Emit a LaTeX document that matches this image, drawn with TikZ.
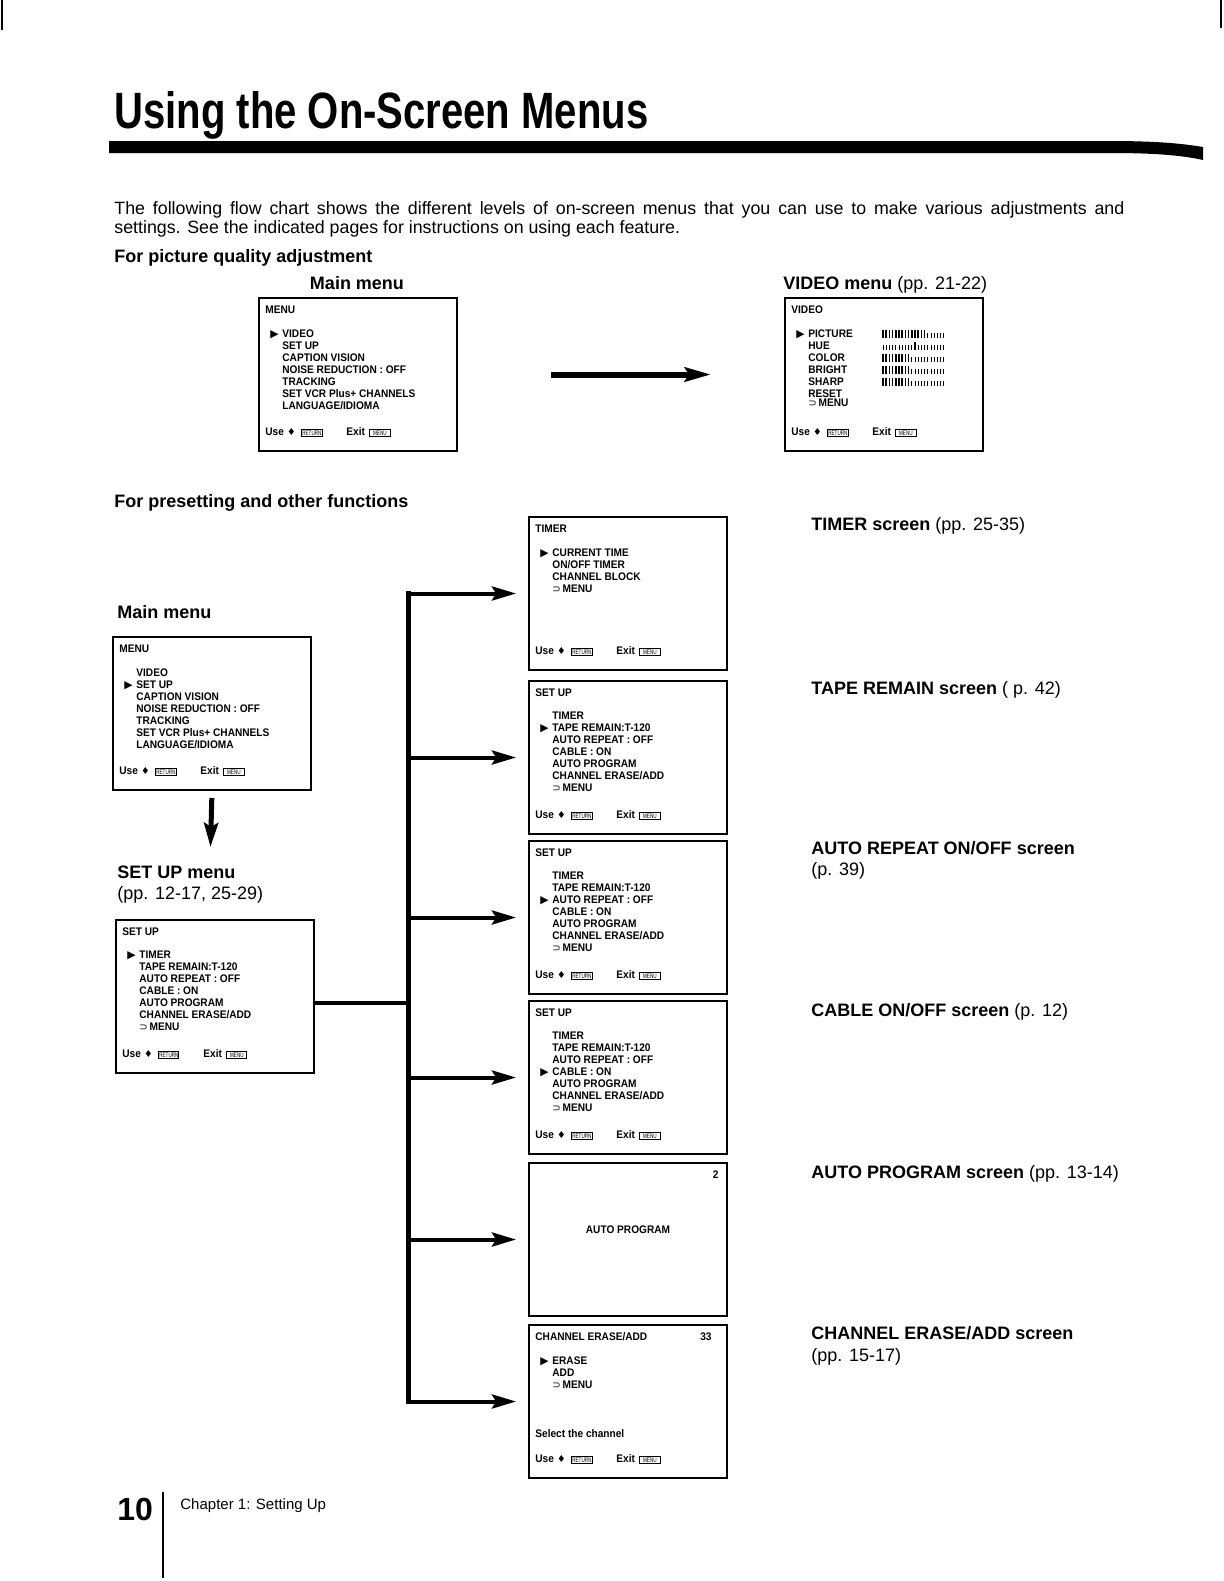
\documentclass[tikz,border=0pt]{standalone}
\usepackage{fontspec}
\usepackage{graphicx}
\setmainfont{Liberation Sans}
\newfontfamily\osdfont[FakeStretch=0.92]{Liberation Sans Bold}
\newfontfamily\osdsym{DejaVu Sans}
\newfontfamily\keyfont[FakeStretch=0.7]{Liberation Sans}
\usetikzlibrary{arrows.meta,calc}

% bits of the on-screen display
\newcommand{\osdcur}{\makebox[6pt][l]{\osdsym\fontsize{5.4pt}{5pt}\selectfont ▶}}
\newcommand{\osdnocur}{\makebox[6pt][l]{}}
\newcommand{\osdback}{{\osdsym\fontsize{5pt}{5pt}\selectfont ⊃}\,}
\newcommand{\keycap}[1]{{\setlength\fboxsep{0.5pt}\setlength\fboxrule{0.45pt}\framebox[10.5pt]{\keyfont\fontsize{3.3pt}{4pt}\selectfont #1}}}
\newcommand{\osdfoot}{\makebox[11pt][l]{Use}\makebox[4pt]{\osdsym\fontsize{4.8pt}{5pt}\selectfont ♦}\hspace{3pt}\keycap{RETURN}\hspace{12pt}\makebox[11.5pt][l]{Exit}\keycap{MENU}}
\newcommand{\osdscreen}[4]{%
  \node[screen] (#1) at (#2) {};
  \node[osd, anchor=base west] (#1-head) at ([xshift=3.5pt,yshift=-8.25pt]#1.north west) {#3};
  \node[osd, anchor=north west] (#1-list) at ([xshift=6pt,yshift=-16pt]#1.north west) {#4};
  \node[osd, anchor=base west] (#1-foot) at ([xshift=3.5pt,yshift=-69pt]#1.north west) {\osdfoot};}

\begin{document}
\begin{tikzpicture}[x=0.5pt, y=-0.5pt,
  screen/.style={draw, line width=1pt, minimum width=99pt, minimum height=76.5pt, inner sep=0pt, anchor=north west},
  osd/.style={font=\osdfont\fontsize{5.5pt}{6pt}\selectfont, inner sep=0pt, align=left},
  lbl/.style={font=\fontsize{9pt}{10.5pt}\selectfont, inner sep=0pt, anchor=base west},
  head/.style={lbl, font=\fontsize{9pt}{10.5pt}\selectfont\bfseries},
  branch/.style={line width=2pt, shorten >=6pt, -{Stealth[length=12pt,width=7pt,inset=2pt]}}]
  \fill[white] (0,0) rectangle (1224,1581);
  \useasboundingbox (0,0) rectangle (1224,1581);

  % page edges and heading
  \draw[line width=1pt] (2,0) -- (2,30);
  \draw[line width=1pt] (1221,0) -- (1221,28);
  \node[anchor=base west, inner sep=0pt] (title) at (114,128)
    {\resizebox{267pt}{18.5pt}{\bfseries Using the On-Screen Menus}};
  \fill (109,141) -- (1110,141) .. controls (1160,141) and (1185,144) .. (1203,147)
    -- (1203,160) .. controls (1185,156) and (1160,153) .. (1110,153) -- (109,153) -- cycle;
  \node[lbl, font=\fontsize{8.9pt}{10pt}\selectfont] (introa) at (114,214)
    {\makebox[505pt][s]{The following flow chart shows the different levels of on-screen menus that you can use to make various adjustments and}};
  \node[lbl, font=\fontsize{8.9pt}{10pt}\selectfont] (introb) at (114,233)
    {settings. See the indicated pages for instructions on using each feature.};

  % picture quality
  \node[head] (pq-lbl) at (114,262) {For picture quality adjustment};
  \node[head, anchor=base] (menuA-lbl) at (357,289) {Main menu};
  \node[lbl] (video-lbl) at (783,289) {\textbf{VIDEO menu} (pp. 21-22)};
  \osdscreen{menuA}{258,297}{MENU}{\osdcur VIDEO\\\osdnocur SET UP\\\osdnocur CAPTION VISION\\\osdnocur NOISE REDUCTION : OFF\\\osdnocur TRACKING\\\osdnocur SET VCR Plus+ CHANNELS\\\osdnocur LANGUAGE/IDIOMA}
  \osdscreen{video}{784,297}{VIDEO}{\osdcur PICTURE\\\osdnocur HUE\\\osdnocur COLOR\\\osdnocur BRIGHT\\\osdnocur SHARP\\\osdnocur RESET\\[-1.5pt]\osdnocur\osdback MENU}
  \foreach \r in {0,...,4}
    \foreach \i in {0,...,19}
      \draw[line width=0.35pt] (883+3.2*\i, 338+12*\r) -- ++(0,-5);
  \foreach \r/\a/\b in {0/0/13, 1/10/10, 2/0/8, 3/0/8, 4/0/8}
    \foreach \i in {\a,...,\b}
      \draw[line width=0.75pt] (883+3.2*\i, 338+12*\r) -- ++(0,-8);
  \draw[line width=3pt, shorten <=46.5pt, shorten >=36.5pt, -{Stealth[length=13pt,width=7pt,inset=2pt]}] (menuA.east) -- (video.west);

  % presetting
  \node[head] (preset-lbl) at (114,507) {For presetting and other functions};
  \node[head] (menuB-lbl) at (117,618) {Main menu};
  \osdscreen{menuB}{112,636}{MENU}{\osdnocur VIDEO\\\osdcur SET UP\\\osdnocur CAPTION VISION\\\osdnocur NOISE REDUCTION : OFF\\\osdnocur TRACKING\\\osdnocur SET VCR Plus+ CHANNELS\\\osdnocur LANGUAGE/IDIOMA}
  \coordinate (down) at (210.5,847);
  \draw[line width=2.5pt, shorten <=3.5pt, -{Stealth[length=12pt,width=7pt,inset=2pt]}] (menuB.south) -- (down);
  \node[head] (setupm-lbl) at (117,878) {SET UP menu};
  \node[lbl] (setupm-pp) at (117,899) {(pp. 12-17, 25-29)};
  \osdscreen{setupm}{115,919}{SET UP}{\osdcur TIMER\\\osdnocur TAPE REMAIN:T-120\\\osdnocur AUTO REPEAT : OFF\\\osdnocur CABLE : ON\\\osdnocur AUTO PROGRAM\\\osdnocur CHANNEL ERASE/ADD\\\osdnocur\osdback MENU}

  % screens reached from SET UP
  \osdscreen{timer}{528,516}{TIMER}{\osdcur CURRENT TIME\\\osdnocur ON/OFF TIMER\\\osdnocur CHANNEL BLOCK\\\osdnocur\osdback MENU}
  \osdscreen{tape}{528,680}{SET UP}{\osdnocur TIMER\\\osdcur TAPE REMAIN:T-120\\\osdnocur AUTO REPEAT : OFF\\\osdnocur CABLE : ON\\\osdnocur AUTO PROGRAM\\\osdnocur CHANNEL ERASE/ADD\\\osdnocur\osdback MENU}
  \osdscreen{repeat}{528,840}{SET UP}{\osdnocur TIMER\\\osdnocur TAPE REMAIN:T-120\\\osdcur AUTO REPEAT : OFF\\\osdnocur CABLE : ON\\\osdnocur AUTO PROGRAM\\\osdnocur CHANNEL ERASE/ADD\\\osdnocur\osdback MENU}
  \osdscreen{cable}{528,1000}{SET UP}{\osdnocur TIMER\\\osdnocur TAPE REMAIN:T-120\\\osdnocur AUTO REPEAT : OFF\\\osdcur CABLE : ON\\\osdnocur AUTO PROGRAM\\\osdnocur CHANNEL ERASE/ADD\\\osdnocur\osdback MENU}
  \node[screen] (autoprog) at (528,1162) {};
  \node[osd, anchor=base east] (autoprog-ch) at ([xshift=-4.5pt,yshift=-8pt]autoprog.north east) {2};
  \node[osd] (autoprog-msg) at ([yshift=5pt]autoprog.center) {AUTO PROGRAM};
  \osdscreen{chan}{528,1324}{CHANNEL ERASE/ADD}{\osdcur ERASE\\\osdnocur ADD\\\osdnocur\osdback MENU}
  \node[osd, anchor=base east] (chan-ch) at ([xshift=-8pt,yshift=-8.25pt]chan.north east) {33};
  \node[osd, anchor=base west] (chan-sel) at ([xshift=3.5pt,yshift=-56.5pt]chan.north west) {Select the channel};

  % bus and branches
  \coordinate (bus) at (408,1003);
  \draw[line width=2pt] (setupm.east |- bus) -- (bus);
  \draw[line width=2.5pt, line cap=rect] (bus |- timer.west) -- (bus |- chan.west);
  \foreach \s in {timer,tape,repeat,cable,autoprog,chan}
    \draw[branch] (bus |- \s.west) -- (\s.west);

  % screen names
  \node[lbl] (timer-lbl) at (811,530) {\textbf{TIMER screen} (pp. 25-35)};
  \node[lbl] (tape-lbl) at (811,694) {\textbf{TAPE REMAIN screen} ( p. 42)};
  \node[lbl] (repeat-lbl) at (811,854) {\textbf{AUTO REPEAT ON/OFF screen}};
  \node[lbl] (repeat-pp) at (811,875) {(p. 39)};
  \node[lbl] (cable-lbl) at (811,1016) {\textbf{CABLE ON/OFF screen} (p. 12)};
  \node[lbl] (autoprog-lbl) at (811,1178) {\textbf{AUTO PROGRAM screen} (pp. 13-14)};
  \node[lbl] (chan-lbl) at (811,1339) {\textbf{CHANNEL ERASE/ADD screen}};
  \node[lbl] (chan-pp) at (811,1361) {(pp. 15-17)};

  % footer
  \node[anchor=base west, inner sep=0pt, font=\fontsize{16pt}{18pt}\selectfont\bfseries] (pagenum) at (117,1520) {10};
  \draw[line width=0.8pt] (163,1492) -- (163,1578);
  \node[lbl, font=\fontsize{7.5pt}{9pt}\selectfont] (chapter) at (180,1509) {Chapter 1: Setting Up};
\end{tikzpicture}
\end{document}
